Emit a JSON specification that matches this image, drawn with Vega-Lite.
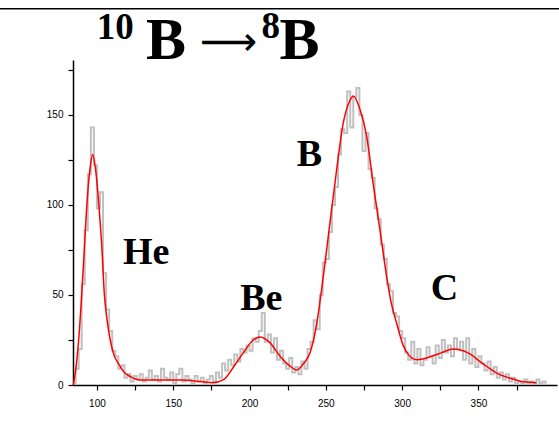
{
  "$schema": "https://vega.github.io/schema/vega-lite/v6.json",
  "width": 484,
  "height": 325,
  "autosize": {"type": "none"},
  "padding": {"left": 73, "top": 60, "right": 2, "bottom": 47},
  "background": "white",
  "config": {
    "view": {"stroke": null},
    "axis": {
      "grid": false,
      "domainColor": "black",
      "tickColor": "black",
      "labelColor": "black",
      "labelFont": "Liberation Sans",
      "labelFontSize": 10,
      "tickSize": 5,
      "domainWidth": 1.5,
      "tickWidth": 1.2,
      "title": null
    }
  },
  "datasets": {
    "hist": [
      {"e": 84, "c": 1}, {"e": 86, "c": 9}, {"e": 88, "c": 20}, {"e": 90, "c": 56}, {"e": 92, "c": 86},
      {"e": 94, "c": 117}, {"e": 96, "c": 143}, {"e": 98, "c": 122}, {"e": 100, "c": 98}, {"e": 102, "c": 107},
      {"e": 104, "c": 62}, {"e": 106, "c": 42}, {"e": 108, "c": 30}, {"e": 110, "c": 19}, {"e": 112, "c": 16},
      {"e": 114, "c": 9}, {"e": 116, "c": 11}, {"e": 118, "c": 4}, {"e": 120, "c": 6}, {"e": 122, "c": 2},
      {"e": 124, "c": 5}, {"e": 126, "c": 3}, {"e": 128, "c": 6}, {"e": 130, "c": 2}, {"e": 132, "c": 4},
      {"e": 134, "c": 8}, {"e": 136, "c": 3}, {"e": 138, "c": 5}, {"e": 140, "c": 2}, {"e": 142, "c": 9},
      {"e": 144, "c": 4}, {"e": 146, "c": 3}, {"e": 148, "c": 7}, {"e": 150, "c": 1}, {"e": 152, "c": 6},
      {"e": 154, "c": 9}, {"e": 156, "c": 2}, {"e": 158, "c": 5}, {"e": 160, "c": 3}, {"e": 162, "c": 1},
      {"e": 164, "c": 5}, {"e": 166, "c": 2}, {"e": 168, "c": 4}, {"e": 170, "c": 1}, {"e": 172, "c": 3},
      {"e": 174, "c": 5}, {"e": 176, "c": 2}, {"e": 178, "c": 7}, {"e": 180, "c": 4}, {"e": 182, "c": 12},
      {"e": 184, "c": 8}, {"e": 186, "c": 14}, {"e": 188, "c": 11}, {"e": 190, "c": 17}, {"e": 192, "c": 13},
      {"e": 194, "c": 20}, {"e": 196, "c": 18}, {"e": 198, "c": 22}, {"e": 200, "c": 19}, {"e": 202, "c": 26},
      {"e": 204, "c": 24}, {"e": 206, "c": 30}, {"e": 208, "c": 40}, {"e": 210, "c": 24}, {"e": 212, "c": 28},
      {"e": 214, "c": 18}, {"e": 216, "c": 26}, {"e": 218, "c": 14}, {"e": 220, "c": 19}, {"e": 222, "c": 12},
      {"e": 224, "c": 9}, {"e": 226, "c": 15}, {"e": 228, "c": 7}, {"e": 230, "c": 10}, {"e": 232, "c": 6},
      {"e": 234, "c": 13}, {"e": 236, "c": 9}, {"e": 238, "c": 20}, {"e": 240, "c": 24}, {"e": 242, "c": 36},
      {"e": 244, "c": 31}, {"e": 246, "c": 50}, {"e": 248, "c": 68}, {"e": 250, "c": 70}, {"e": 252, "c": 85},
      {"e": 254, "c": 100}, {"e": 256, "c": 110}, {"e": 258, "c": 128}, {"e": 260, "c": 142}, {"e": 262, "c": 140},
      {"e": 264, "c": 163}, {"e": 266, "c": 143}, {"e": 268, "c": 160}, {"e": 270, "c": 165}, {"e": 272, "c": 150},
      {"e": 274, "c": 130}, {"e": 276, "c": 140}, {"e": 278, "c": 120}, {"e": 280, "c": 115}, {"e": 282, "c": 98},
      {"e": 284, "c": 92}, {"e": 286, "c": 78}, {"e": 288, "c": 70}, {"e": 290, "c": 56}, {"e": 292, "c": 52},
      {"e": 294, "c": 40}, {"e": 296, "c": 38}, {"e": 298, "c": 30}, {"e": 300, "c": 26}, {"e": 302, "c": 18},
      {"e": 304, "c": 14}, {"e": 306, "c": 24}, {"e": 308, "c": 12}, {"e": 310, "c": 20}, {"e": 312, "c": 11},
      {"e": 314, "c": 14}, {"e": 316, "c": 21}, {"e": 318, "c": 16}, {"e": 320, "c": 12}, {"e": 322, "c": 22},
      {"e": 324, "c": 15}, {"e": 326, "c": 25}, {"e": 328, "c": 18}, {"e": 330, "c": 22}, {"e": 332, "c": 16},
      {"e": 334, "c": 26}, {"e": 336, "c": 20}, {"e": 338, "c": 24}, {"e": 340, "c": 14}, {"e": 342, "c": 26},
      {"e": 344, "c": 12}, {"e": 346, "c": 20}, {"e": 348, "c": 10}, {"e": 350, "c": 16}, {"e": 352, "c": 12},
      {"e": 354, "c": 8}, {"e": 356, "c": 13}, {"e": 358, "c": 6}, {"e": 360, "c": 10}, {"e": 362, "c": 4},
      {"e": 364, "c": 7}, {"e": 366, "c": 3}, {"e": 368, "c": 6}, {"e": 370, "c": 2}, {"e": 372, "c": 4},
      {"e": 374, "c": 1}, {"e": 376, "c": 2}, {"e": 378, "c": 1}, {"e": 380, "c": 3}, {"e": 382, "c": 1},
      {"e": 384, "c": 2}, {"e": 386, "c": 1}, {"e": 388, "c": 3}, {"e": 390, "c": 1}, {"e": 392, "c": 2},
      {"e": 394, "c": 0}
    ],
    "fit": [
      {"e": 84.5, "f": 0}, {"e": 86, "f": 8}, {"e": 88, "f": 25}, {"e": 90, "f": 50}, {"e": 91.7, "f": 75},
      {"e": 93, "f": 95}, {"e": 95.6, "f": 121}, {"e": 97.2, "f": 128}, {"e": 98.9, "f": 121}, {"e": 101.7, "f": 95},
      {"e": 103.3, "f": 75}, {"e": 104.8, "f": 51}, {"e": 106.5, "f": 37}, {"e": 108.7, "f": 25}, {"e": 111, "f": 17},
      {"e": 114, "f": 12}, {"e": 118, "f": 7}, {"e": 122, "f": 4.6}, {"e": 128, "f": 2.8}, {"e": 140, "f": 2.8},
      {"e": 155, "f": 2.8}, {"e": 168, "f": 1.9}, {"e": 176, "f": 1.3}, {"e": 183, "f": 3}, {"e": 189.5, "f": 10},
      {"e": 196, "f": 18}, {"e": 202.4, "f": 25}, {"e": 207, "f": 26.7}, {"e": 213.5, "f": 23.4}, {"e": 220, "f": 16},
      {"e": 226.6, "f": 10.5}, {"e": 231, "f": 8.3}, {"e": 235, "f": 11.5}, {"e": 239.7, "f": 18}, {"e": 244, "f": 34},
      {"e": 248.3, "f": 60}, {"e": 252.7, "f": 90}, {"e": 257, "f": 119}, {"e": 261.3, "f": 145}, {"e": 265.8, "f": 158},
      {"e": 268, "f": 160.5}, {"e": 272.4, "f": 153}, {"e": 276.8, "f": 138}, {"e": 281, "f": 112}, {"e": 285.5, "f": 86},
      {"e": 289.9, "f": 60}, {"e": 292.5, "f": 47}, {"e": 296.5, "f": 34}, {"e": 300.7, "f": 22}, {"e": 304, "f": 17},
      {"e": 309.6, "f": 14}, {"e": 318, "f": 15.5}, {"e": 326, "f": 18}, {"e": 333.4, "f": 20}, {"e": 340, "f": 19},
      {"e": 345, "f": 17}, {"e": 351, "f": 13}, {"e": 356, "f": 10}, {"e": 362, "f": 6.6}, {"e": 368, "f": 4.5},
      {"e": 372.6, "f": 3.3}, {"e": 378, "f": 2}, {"e": 381.6, "f": 1.7}, {"e": 388, "f": 1.3}
    ],
    "labels": [
      {"t": "He", "e": 132.3, "v": 73.3},
      {"t": "Be", "e": 207.7, "v": 47.8},
      {"t": "B", "e": 239.2, "v": 128},
      {"t": "C", "e": 327.8, "v": 53.3}
    ],
    "headMain": [
      {"t": "B", "e": 132.2, "v": 180.9},
      {"t": "B", "e": 219.7, "v": 180.9}
    ],
    "headSup": [
      {"t": "10", "e": 99.8, "v": 192.0},
      {"t": "8", "e": 207.9, "v": 192.6}
    ],
    "headArrow": [
      {"t": "⟶", "e": 167.5, "v": 183.5}
    ]
  },
  "layer": [
    {
      "data": {"name": "hist"},
      "mark": {"type": "line", "interpolate": "step-after", "color": "#c0c0c0", "strokeWidth": 2},
      "encoding": {
        "x": {
          "field": "e", "type": "quantitative",
          "scale": {"domain": [84.3, 401.5], "nice": false, "zero": false},
          "axis": {
            "values": [100, 125, 150, 175, 200, 225, 250, 275, 300, 325, 350, 375],
            "labelExpr": "datum.value % 50 == 0 ? datum.label : ''",
            "labelPadding": 8
          }
        },
        "y": {
          "field": "c", "type": "quantitative",
          "scale": {"domain": [0, 180.5], "nice": false},
          "axis": {
            "values": [0, 25, 50, 75, 100, 125, 150, 175],
            "labelExpr": "datum.value % 50 == 0 ? datum.label : ''",
            "labelPadding": 5
          }
        }
      }
    },
    {
      "data": {"name": "fit"},
      "mark": {"type": "line", "interpolate": "monotone", "color": "#ff0000", "strokeWidth": 1.5},
      "encoding": {
        "x": {"field": "e", "type": "quantitative"},
        "y": {"field": "f", "type": "quantitative"}
      }
    },
    {
      "data": {"name": "labels"},
      "mark": {"type": "text", "font": "Liberation Serif", "fontWeight": "bold", "fontSize": 38, "color": "black", "align": "center", "baseline": "middle"},
      "encoding": {
        "x": {"field": "e", "type": "quantitative"},
        "y": {"field": "v", "type": "quantitative"},
        "text": {"field": "t"}
      }
    },
    {
      "data": {"name": "headMain"},
      "mark": {"type": "text", "clip": false, "font": "Liberation Serif", "fontWeight": "bold", "fontSize": 60, "color": "black", "align": "left", "baseline": "alphabetic"},
      "encoding": {
        "x": {"field": "e", "type": "quantitative"},
        "y": {"field": "v", "type": "quantitative"},
        "text": {"field": "t"}
      }
    },
    {
      "data": {"name": "headSup"},
      "mark": {"type": "text", "clip": false, "font": "Liberation Serif", "fontWeight": "bold", "fontSize": 37, "color": "black", "align": "left", "baseline": "alphabetic"},
      "encoding": {
        "x": {"field": "e", "type": "quantitative"},
        "y": {"field": "v", "type": "quantitative"},
        "text": {"field": "t"}
      }
    },
    {
      "data": {"name": "headArrow"},
      "mark": {"type": "text", "clip": false, "font": "DejaVu Sans", "fontSize": 40, "color": "black", "align": "left", "baseline": "alphabetic"},
      "encoding": {
        "x": {"field": "e", "type": "quantitative"},
        "y": {"field": "v", "type": "quantitative"},
        "text": {"field": "t"}
      }
    },
    {
      "data": {"values": [{}]},
      "mark": {"type": "rule", "clip": false, "color": "black", "strokeWidth": 1.5},
      "encoding": {
        "x": {"datum": 36},
        "x2": {"datum": 403},
        "y": {"datum": 208.9}
      }
    }
  ]
}
